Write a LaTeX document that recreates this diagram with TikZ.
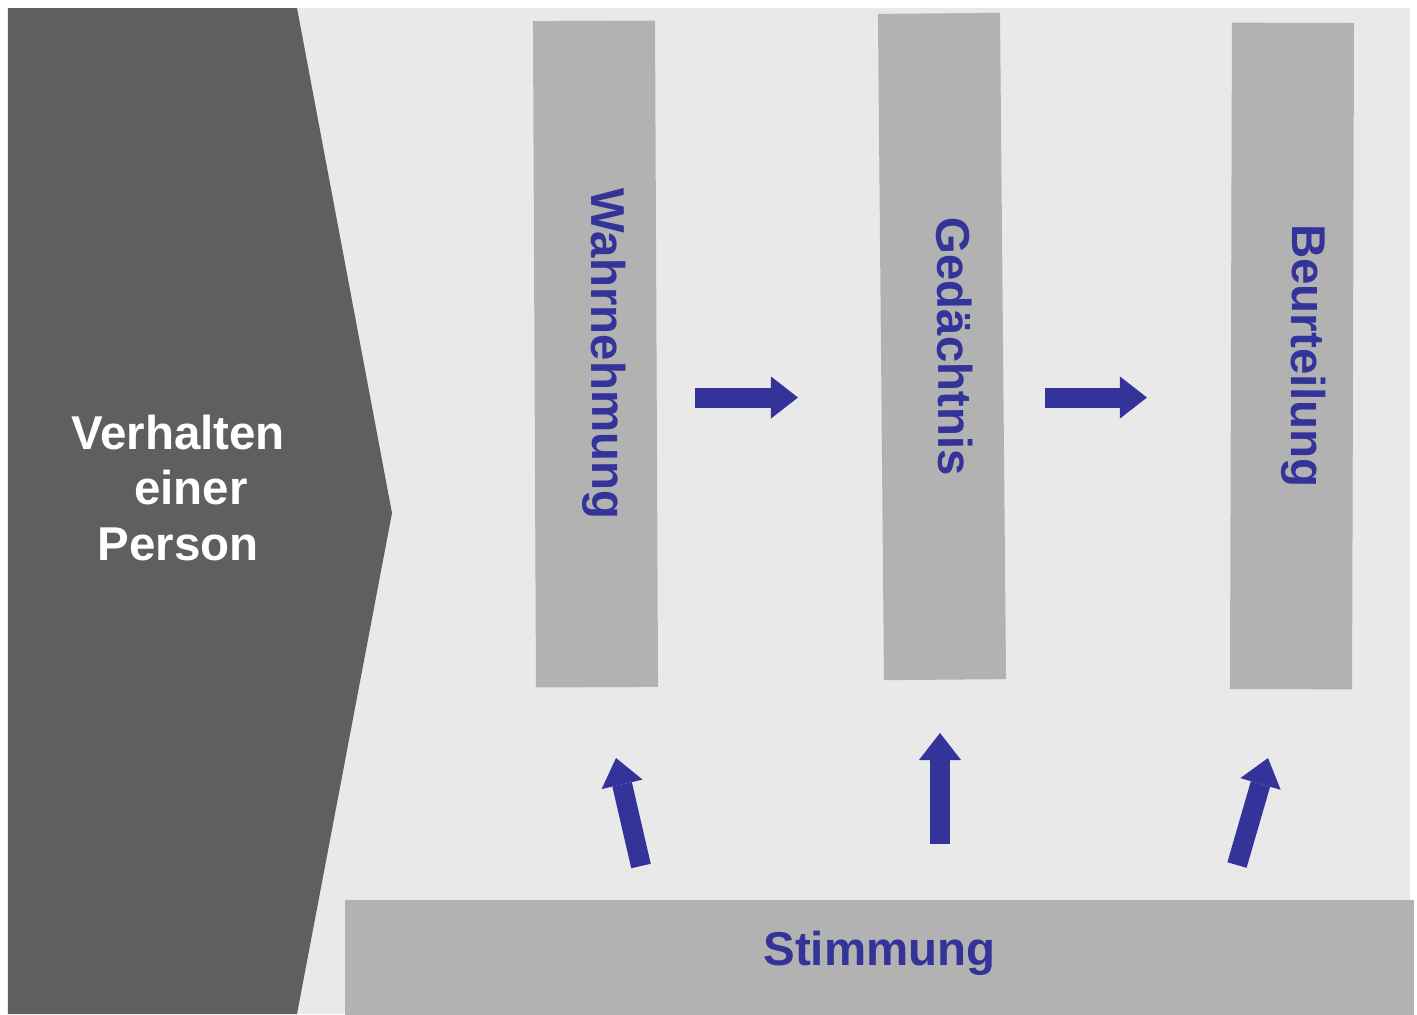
\documentclass[tikz,border=0pt]{standalone}
\usepackage{fontspec}
\setmainfont{Liberation Sans}
\usetikzlibrary{arrows.meta}
\definecolor{darkgrey}{HTML}{5F5F5F}
\definecolor{lightgrey}{HTML}{E9E9E9}
\definecolor{bargrey}{HTML}{B2B2B2}
\definecolor{flowblue}{HTML}{333399}
\tikzset{
    bigfont/.style={font=\bfseries\fontsize{13.5pt}{15.8pt}\selectfont},
    bar/.style={fill=bargrey,inner sep=0pt,minimum width=1.22cm,minimum height=6.66cm},
    barlabel/.style={bigfont,text=flowblue,inner sep=0pt},
    flow/.style={draw=flowblue,line width=0.2cm,
        -{Triangle[width=0.42cm,length=0.27cm,line width=0pt]}},
}

\begin{document}
\begin{tikzpicture}[x=0.01cm,y=-0.01cm]
    \fill[white] (0,0) rectangle (1417,1014);
    \useasboundingbox (0,0) rectangle (1417,1014);
    \fill[lightgrey] (8,8) rectangle (1410,1014);
    \fill[darkgrey] (8,8) -- (297,8) -- (392,513) -- (297,1014) -- (8,1014) -- cycle;
    \node[bigfont,text=white,align=center] (person) at (178,488)
        {Verhalten\\\hspace{0.26cm}einer\\Person};

    \node[bar,rotate=0.26] (wahr) at (595.5,354) {};
    \node[bar,rotate=0.52] (gedae) at (942,346.5) {};
    \node[bar,rotate=-0.17] (beurt) at (1292,356) {};

    \node[barlabel,rotate=-89.74] (wahrtext) at ([xshift=0.085cm]wahr.center) {Wahrnehmung};
    \node[barlabel,rotate=-89.48] (gedaetext) at ([xshift=0.13cm]gedae.center) {Gedächtnis};
    \node[barlabel,rotate=-90.17] (beurttext) at ([xshift=0.12cm]beurt.center) {Beurteilung};

    \node[fill=bargrey,inner sep=0pt,minimum width=10.69cm,minimum height=1.15cm,
        anchor=north west,barlabel,text depth=0.17cm] (stimmung) at (344,899) {Stimmung};

    \coordinate (h1s) at (695,397.5);
    \coordinate (h1e) at (798,397.5);
    \coordinate (h2s) at (1045,397.5);
    \coordinate (h2e) at (1147,397.5);
    \coordinate (u1s) at (641,866);
    \coordinate (u1e) at (616,758);
    \coordinate (u2s) at (940,844);
    \coordinate (u2e) at (940,733);
    \coordinate (u3s) at (1237,865);
    \coordinate (u3e) at (1268,758);

    \draw[flow] (h1s) -- (h1e);
    \draw[flow] (h2s) -- (h2e);
    \draw[flow] (u1s) -- (u1e);
    \draw[flow] (u2s) -- (u2e);
    \draw[flow] (u3s) -- (u3e);
\end{tikzpicture}
\end{document}
